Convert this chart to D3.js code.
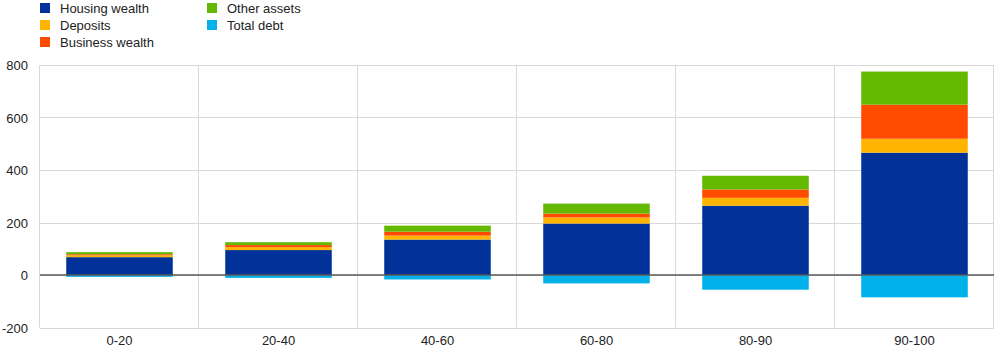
<!DOCTYPE html>
<html>
<head>
<meta charset="utf-8">
<script src="https://cdn.jsdelivr.net/npm/d3@7"></script>
<style>
  body { margin: 0; background: #fff; }
  text { font-family: Arial, "Liberation Sans", sans-serif; fill: #222; }
</style>
</head>
<body>
<script>
var categories = ["0-20", "20-40", "40-60", "60-80", "80-90", "90-100"];
var housingWealth  = [68, 95, 135, 196, 264, 466];
var deposits       = [7, 11, 15, 23, 30, 53];
var businessWealth = [4, 8, 15, 15, 32, 130];
var otherAssets    = [8, 11, 23, 38, 52, 126];
var totalDebt      = [-7, -11, -17, -32, -56, -85];
var yTicks = [-200, 0, 200, 400, 600, 800];

var seriesNames  = ["Housing wealth", "Deposits", "Business wealth", "Other assets", "Total debt"];
var seriesValues = [housingWealth, deposits, businessWealth, otherAssets, totalDebt];
var colors = ["#003299", "#ffb400", "#ff4b00", "#65b800", "#00b1ea"];

var w = 1005, h = 354;
var plotLeft = 40, plotRight = 994, plotTop = 65, plotBottom = 327.5;

var svg = d3.select("body").append("svg")
  .attr("width", w)
  .attr("height", h);

var xScale = d3.scaleBand()
  .domain(categories)
  .range([plotLeft, plotRight])
  .paddingInner(0.33)
  .paddingOuter(0.165);

var yScale = d3.scaleLinear()
  .domain([-200, 800])
  .range([plotBottom, plotTop]);

// grid
var grid = svg.append("g");
grid.selectAll("line.h")
  .data(yTicks)
  .enter().append("line")
  .attr("x1", plotLeft).attr("x2", plotRight)
  .attr("y1", function(d) { return Math.round(yScale(d)) + 0.5; })
  .attr("y2", function(d) { return Math.round(yScale(d)) + 0.5; })
  .attr("stroke", "#d9d9d9");

var step = (plotRight - plotLeft) / categories.length;
grid.selectAll("line.v")
  .data(d3.range(categories.length + 1))
  .enter().append("line")
  .attr("x1", function(i) { return Math.round(plotLeft + i * step) - 0.5; })
  .attr("x2", function(i) { return Math.round(plotLeft + i * step) - 0.5; })
  .attr("y1", plotTop).attr("y2", plotBottom)
  .attr("stroke", "#d9d9d9");

// stacked bars
var stacks = categories.map(function(c, i) {
  var pos = 0, neg = 0, segs = [];
  seriesValues.forEach(function(vals, s) {
    var v = vals[i];
    if (v >= 0) { segs.push({ s: s, y0: pos, y1: pos + v }); pos += v; }
    else { segs.push({ s: s, y0: neg + v, y1: neg }); neg += v; }
  });
  return { cat: c, segs: segs };
});

svg.selectAll("g.bar")
  .data(stacks)
  .enter().append("g")
  .attr("class", "bar")
  .selectAll("rect")
  .data(function(d) { return d.segs.map(function(s) { s.cat = d.cat; return s; }); })
  .enter().append("rect")
  .attr("x", function(d) { return xScale(d.cat); })
  .attr("width", xScale.bandwidth())
  .attr("y", function(d) { return yScale(d.y1); })
  .attr("height", function(d) { return yScale(d.y0) - yScale(d.y1); })
  .attr("fill", function(d) { return colors[d.s]; });

// zero line
svg.append("line")
  .attr("x1", plotLeft).attr("x2", plotRight)
  .attr("y1", yScale(0)).attr("y2", yScale(0))
  .attr("stroke", "#595959")
  .attr("stroke-width", 1.5);

// y axis labels
svg.selectAll("text.ylab")
  .data(yTicks)
  .enter().append("text")
  .attr("x", 28)
  .attr("y", function(d) { return yScale(d) + 5; })
  .attr("text-anchor", "end")
  .attr("font-size", "13px")
  .text(function(d) { return d; });

// x axis labels
svg.selectAll("text.xlab")
  .data(categories)
  .enter().append("text")
  .attr("x", function(d) { return xScale(d) + xScale.bandwidth() / 2; })
  .attr("y", 345)
  .attr("text-anchor", "middle")
  .attr("font-size", "13px")
  .text(function(d) { return d; });

// legend
var legendPos = [[40, 2], [40, 19], [40, 36], [207, 2], [207, 19]];
var legend = svg.selectAll("g.legend")
  .data(d3.range(seriesNames.length))
  .enter().append("g")
  .attr("transform", function(d, i) { return "translate(" + legendPos[i][0] + "," + legendPos[i][1] + ")"; });
legend.append("rect")
  .attr("width", 10).attr("height", 10)
  .attr("y", 1)
  .attr("fill", function(d) { return colors[d]; });
legend.append("text")
  .attr("x", 20).attr("y", 10.5)
  .attr("font-size", "13px")
  .text(function(d) { return seriesNames[d]; });
</script>
</body>
</html>
